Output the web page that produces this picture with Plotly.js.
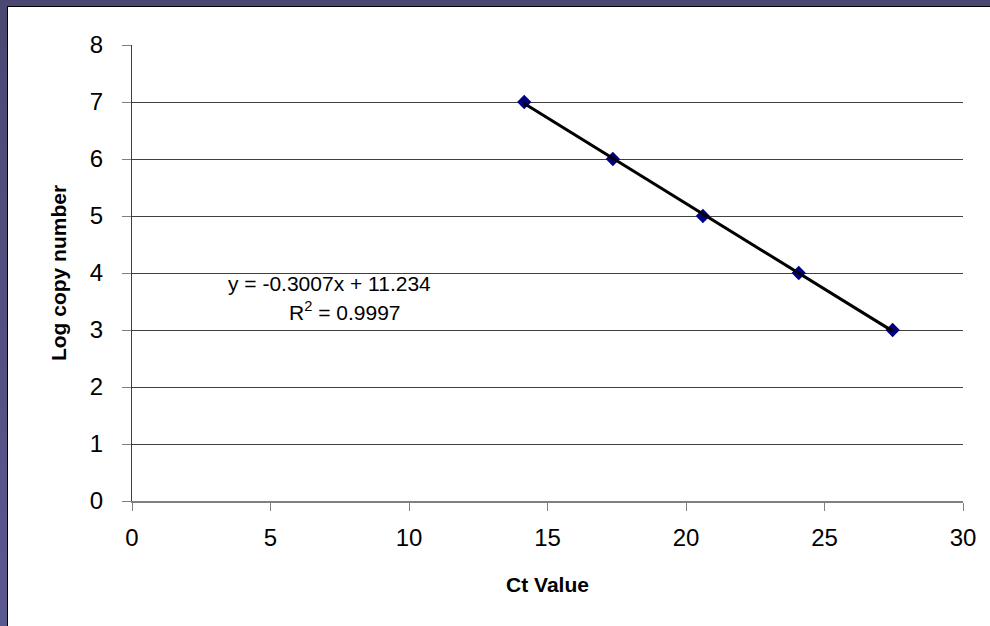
<!DOCTYPE html>
<html>
<head>
<meta charset="utf-8">
<script src="https://cdn.plot.ly/plotly-3.0.1.min.js"></script>
<style>
  html, body { margin: 0; padding: 0; width: 990px; height: 626px; overflow: hidden;
    background: linear-gradient(#4a4872, #5a5890); }
  #frame { position: absolute; left: 7px; top: 6px; width: 983px; height: 620px;
    border-top: 1px solid #000; border-left: 1px solid #000; background: #fff; }
  #chart { position: absolute; left: 0; top: 0; width: 982px; height: 619px; }
</style>
</head>
<body>
<div id="frame"><div id="chart"></div></div>
<script>
// Data
const ctValues = [14.16, 17.36, 20.61, 24.07, 27.46];
const logCopyNumbers = [7, 6, 5, 4, 3];
const equationText = "y = -0.3007x + 11.234";
const r2Text = "R<sup>2</sup> = 0.9997";
const xTickVals = [0, 5, 10, 15, 20, 25, 30];
const yTickVals = [0, 1, 2, 3, 4, 5, 6, 7, 8];

// Linear least-squares trendline from the data
const n = ctValues.length;
const mx = ctValues.reduce((a, b) => a + b, 0) / n;
const my = logCopyNumbers.reduce((a, b) => a + b, 0) / n;
let sxy = 0, sxx = 0;
for (let i = 0; i < n; i++) {
  sxy += (ctValues[i] - mx) * (logCopyNumbers[i] - my);
  sxx += (ctValues[i] - mx) ** 2;
}
const slope = sxy / sxx;
const intercept = my - slope * mx;
const xMin = Math.min(...ctValues), xMax = Math.max(...ctValues);
const trendX = [xMin, xMax];
const trendY = trendX.map(x => intercept + slope * x);

const font = "Liberation Sans, Arial, sans-serif";

const traces = [
  {
    x: ctValues, y: logCopyNumbers, type: "scatter", mode: "markers",
    marker: { symbol: "diamond", size: 11, color: "#000080" },
    showlegend: false, hoverinfo: "x+y"
  },
  {
    x: trendX, y: trendY, type: "scatter", mode: "lines",
    line: { color: "#000000", width: 3 },
    showlegend: false, hoverinfo: "skip"
  }
];

const layout = {
  width: 982, height: 619,
  margin: { l: 124, r: 27, t: 38, b: 125 },
  paper_bgcolor: "#ffffff",
  plot_bgcolor: "#ffffff",
  font: { family: font, color: "#000000", size: 24 },
  xaxis: {
    range: [0, 30], tickvals: xTickVals, ticktext: xTickVals.map(String),
    showgrid: false, zeroline: false,
    showline: true, linecolor: "#808080", linewidth: 2,
    ticks: "outside", ticklen: 8, tickcolor: "#808080", tickwidth: 1,
    ticklabelstandoff: 6,
    tickfont: { family: font, size: 24, color: "#000" },
    title: { text: "<b>Ct Value</b>", font: { family: font, size: 21, color: "#000" }, standoff: 28 }
  },
  yaxis: {
    range: [0, 8], tickvals: yTickVals, ticktext: yTickVals.map(String),
    showgrid: true, gridcolor: "#404040", gridwidth: 1,
    zeroline: false,
    showline: true, linecolor: "#404040", linewidth: 1,
    ticks: "outside", ticklen: 9, tickcolor: "#808080", tickwidth: 1,
    ticklabelstandoff: 14,
    tickfont: { family: font, size: 24, color: "#000" },
    title: { text: "<b>Log copy number</b>", font: { family: font, size: 21, color: "#000" }, standoff: 17 }
  },
  annotations: [
    { x: 3.4, y: 3.82, xref: "x", yref: "y", text: equationText, showarrow: false,
      xanchor: "left", yanchor: "middle", font: { family: font, size: 21, color: "#000" } },
    { x: 5.6, y: 3.33, xref: "x", yref: "y", text: r2Text, showarrow: false,
      xanchor: "left", yanchor: "middle", font: { family: font, size: 21, color: "#000" } }
  ]
};

Plotly.newPlot("chart", traces, layout, { displayModeBar: false, staticPlot: true });
</script>
</body>
</html>
